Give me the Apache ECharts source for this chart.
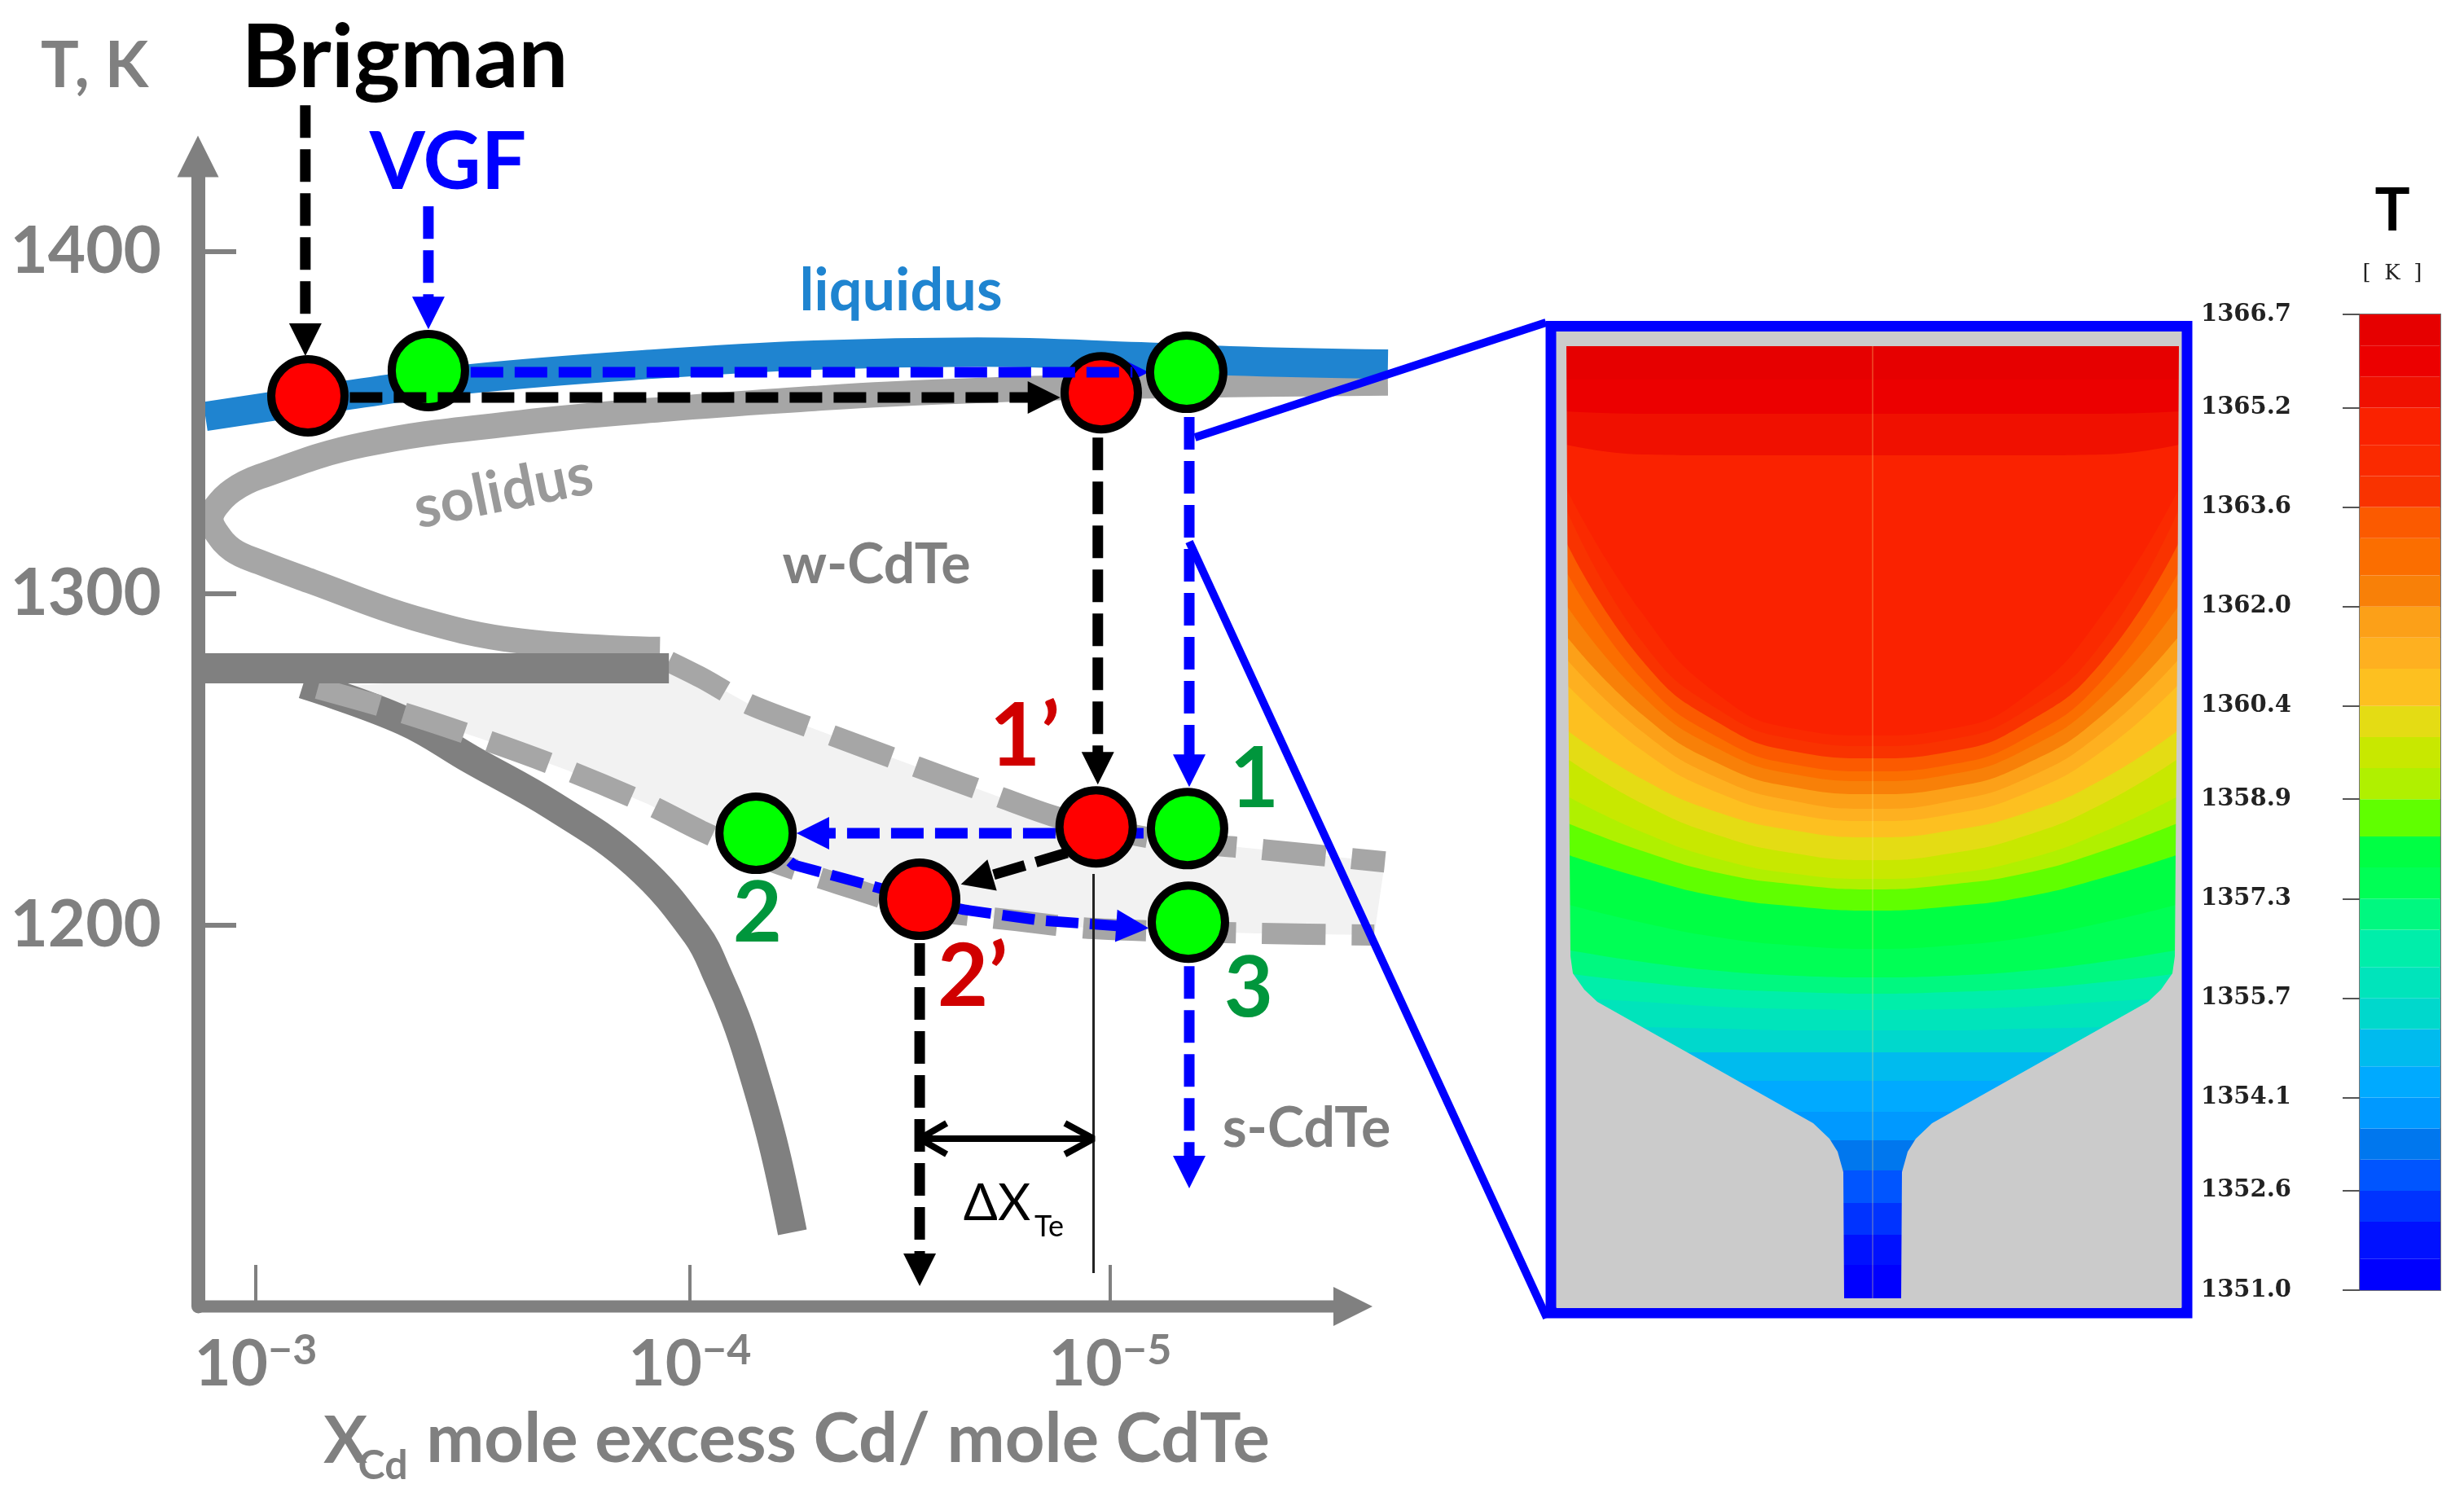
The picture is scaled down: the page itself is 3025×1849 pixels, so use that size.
<!DOCTYPE html>
<html>
<head>
<meta charset="utf-8">
<title>CdTe phase diagram and melt temperature field</title>
<script src="https://cdn.jsdelivr.net/npm/echarts@6/dist/echarts.min.js"></script>
<style>
  html, body { margin: 0; padding: 0; background: #fff; }
  #chart { width: 3025px; height: 1849px; }
</style>
</head>
<body>
<div id="chart"></div>
<script>
// --- phase diagram, x is the exponent magnitude of X_Cd, y is T in K ---
// ticks are where the figure has them, its spacing is a bit uneven
var xTicks = [3, 4.016, 5]
var yTicks = [1200, 1298.4, 1400]

var liquidus = [[2.882,1351.1],[3.215,1357.4],[3.496,1362.2],[3.927,1366.6],[4.308,1369.3],[4.689,1370.2],[5.071,1368.8],[5.280,1367.6],[5.650,1366.6]]
var solidus = [[5.650,1361.0],[5.280,1360.5],[4.880,1359.6],[4.480,1357.7],[4.308,1356.4],[3.965,1353.3],[3.618,1349.2],[3.252,1342.7],[3.009,1333.2],[2.945,1329.1],[2.907,1324.3],[2.895,1320.6],[2.907,1316.8],[2.945,1311.5],[3.009,1307.8],[3.132,1302.0],[3.374,1291.1],[3.618,1284.4],[3.946,1281.9]]
var eutecticBar = [[2.8646,1276.3],[3.967,1276.3]]
var solvus = [[3.111,1271.6],[3.347,1260.7],[3.503,1249.3],[3.698,1235.3],[3.888,1218.3],[4.032,1197.3],[4.083,1184.5],[4.123,1172.4],[4.155,1160.3],[4.209,1136.1],[4.256,1108.8]]
var upperDashed = [[3.967,1278.3],[4.043,1273.5],[4.157,1265.5],[4.350,1256.3],[4.546,1247.1],[4.745,1237.9],[4.886,1231.7],[5.109,1225.6],[5.362,1222.4],[5.643,1218.8]]
var lowerDashed = [[3.145,1270.3],[3.332,1263.6],[3.528,1255.4],[3.726,1246.2],[3.917,1236.0],[4.043,1228.0],[4.194,1219.6],[4.352,1212.8],[4.556,1205.0],[4.779,1201.4],[4.960,1199.0],[5.343,1197.6],[5.618,1197.1]]
var xAxisArrow = [[2.8646,1086.8],[5.5682,1086.8]]

var redPoints = [[3.122,1357.2],[4.979,1358.1],[4.967,1229.2],[4.554,1207.7]]
var greenPoints = [[3.404,1364.7],[5.179,1364.2],[5.181,1228.7],[4.171,1227.3],[5.183,1200.9]]

// growth paths, the last point is the middle of the arrow head
var brigmanDrop = [[3.116,1443.5],[3.116,1400],[3.116,1373.9]]
var vgfDrop = [[3.404,1413.5],[3.404,1381.8]]
var brigmanAcross = [[3.22,1356.7],[4.845,1356.7]]
var vgfAcross = [[3.503,1364.2],[5.052,1364.2]]
var brigmanDown = [[4.971,1344.8],[4.971,1246.6]]
var vgfDown = [[5.185,1350.9],[5.185,1245.9]]
var vgfBack = [[5.181,1227.3],[4.304,1227.3]]
var brigmanBack = [[4.899,1221.5],[4.687,1213.5]]
var vgfAlong = [[4.171,1227.3],[4.260,1217.9],[4.438,1211.8],[4.554,1207.7],[4.657,1204.6],[4.838,1201.4],[5.052,1199.5]]
var brigmanEnd = [[4.554,1207.7],[4.554,1097.7]]
var vgfEnd = [[5.185,1200.9],[5.185,1126.7]]

var deltaLine = [[4.554,1136.6],[4.961,1136.6]]
var deltaLeftHead = [[4.617,1141.2],[4.554,1136.6],[4.617,1132.0]]
var deltaRightHead = [[4.894,1141.2],[4.961,1136.6],[4.894,1132.0]]
var deltaGuide = [[4.961,1215.2],[4.961,1096.7]]

// --- temperature field, x is offset from the axis of the crucible, y is height ---
var fieldOffsets = [0, 94, 188, 282, 376]
// contour heights, coldest first, one row per band edge
var fieldContours = [
  [41,41,41,41,41],
  [78,78,78,78,78],
  [117,117,117,117,117],
  [157,157,157,157,157],
  [194,194,194,194,194],
  [229,229,229,229,229],
  [267,267,267,267,267],
  [302,302,302,302,302],
  [329,329,331,333,336],
  [354,355,358,364,369],
  [374,376,380,388,399],
  [394,396,402,413,428],
  [429,433,443,461,484],
  [476,481,493,516,545],
  [502,508,522,549,584],
  [515,521,539,572,617],
  [538,546,568,607,663],
  [566,574,596,637,698],
  [586,594,620,672,754],
  [601,610,638,695,785],
  [619,627,656,716,813],
  [635,643,674,739,851],
  [647,655,688,759,892],
  [663,671,706,782,928],
  [678,686,722,805,969],
  [691,699,740,840,994],
  [1035,1035,1035,1036,1048],
  [1086,1086,1086,1086,1089],
  [1128,1128,1128,1128,1128]
]
// right half of the crucible wall, top to bottom
var crucibleWall = [[376,1169],[374,800],[371,420],[368,399],[354,379],[338,364],[73,215],[53,196],[43,180],[36,155],[35,0]]

// --- colour bar ---
var barTicks = [1351.0,1352.6,1354.1,1355.7,1357.3,1358.9,1360.4,1362.0,1363.6,1365.2,1366.7]
var barEdges = [1351.0,1351.5,1352.1,1352.6,1353.1,1353.6,1354.1,1354.6,1355.2,1355.7,1356.2,1356.8,1357.3,1357.8,1358.3,1358.9,1359.4,1359.9,1360.4,1361.0,1361.5,1362.0,1362.5,1363.1,1363.6,1364.1,1364.6,1365.2,1365.7,1366.2,1366.7]
var barColors = ['#0000ff','#0011ff','#0033ff','#0055ff','#0077ee','#0099ff','#00aaff','#00bbee','#00d8cc','#00e4bb','#00eeaa','#00f880','#00ff55','#00ff44','#60ff00','#b0f000','#c8e800','#e4dc14','#fdc020','#feb020','#fca018','#f88008','#fb6e00','#fb5a00','#f93300','#fa2a00','#fa2200','#f01000','#ec0000','#e60000']

var GREY = '#808080'
var BLUE = '#0000ff'

function curve(name, data, color, width, z, extra) {
    var s = {
        name: name, type: 'line', xAxisIndex: 0, yAxisIndex: 0, data: data, z: z,
        symbol: 'none', clip: false, silent: true,
        lineStyle: {color: color, width: width, cap: 'butt'}
    }
    return Object.assign(s, extra || {})
}

// dashed path with a solid head on its last segment
function arrowPath(name, data, color, z) {
    var last = data.length - 1
    return curve(name, data, color, 13, z, {
        lineStyle: {color: color, width: 13, type: [40, 14], cap: 'butt'},
        markLine: {
            silent: true, animation: false, symbol: ['none', 'triangle'], symbolSize: 40,
            label: {show: false},
            lineStyle: {color: color, width: 0, type: 'solid'},
            data: [[{coord: data[last - 1]}, {coord: data[last]}]]
        }
    })
}

function polygon(name, points, fill, xi, z) {
    return {
        name: name, type: 'custom', xAxisIndex: xi, yAxisIndex: xi, data: [0], z: z, silent: true,
        renderItem: function (params, api) {
            return {
                type: 'polygon',
                shape: {points: points.map(function (p) { return api.coord(p) })},
                style: {fill: fill}
            }
        }
    }
}

function scatter(name, data, color) {
    return {
        name: name, type: 'scatter', xAxisIndex: 0, yAxisIndex: 0, data: data, z: 5, silent: true,
        symbol: 'circle', symbolSize: 90, clip: false,
        itemStyle: {color: color, borderColor: '#000', borderWidth: 10, opacity: 1}
    }
}

function mirror(offsets, heights) {
    var out = []
    for (var i = offsets.length - 1; i > 0; i--) out.push([-offsets[i], heights[i]])
    for (var j = 0; j < offsets.length; j++) out.push([offsets[j], heights[j]])
    return out
}

function fieldBand(name, data, color, z) {
    return {
        name: name, type: 'line', xAxisIndex: 1, yAxisIndex: 1, data: data, z: z, silent: true,
        symbol: 'none', smooth: 0.5, lineStyle: {width: 0},
        areaStyle: {color: color, opacity: 1, origin: 1169}
    }
}

function wallMask(sign) {
    var pts = crucibleWall.map(function (p) { return [sign * p[0], p[1]] })
    var edge = sign < 0 ? -388 : 379
    pts.push([0, 0], [0, -12], [edge, -12], [edge, 1169])
    return pts
}

var series = [
    polygon('two phase region', upperDashed.concat(lowerDashed.slice().reverse()), '#f2f2f2', 0, 1),
    curve('solvus', solvus, GREY, 36, 2, {smooth: 0.4}),
    curve('solidus', solidus, '#a6a6a6', 31, 2, {smooth: 0.4}),
    curve('liquidus', liquidus, '#1f84d0', 36, 2, {smooth: 0.4}),
    curve('upper boundary', upperDashed, '#a6a6a6', 26, 2, {smooth: 0.3, lineStyle: {color: '#a6a6a6', width: 26, type: [78, 32], cap: 'butt'}}),
    curve('lower boundary', lowerDashed, '#a6a6a6', 26, 2, {smooth: 0.3, lineStyle: {color: '#a6a6a6', width: 26, type: [78, 32], cap: 'butt'}}),
    curve('eutectic', eutecticBar, GREY, 37, 3),
    curve('x axis', xAxisArrow, GREY, 15, 3, {
        markLine: {
            silent: true, animation: false, symbol: ['none', 'triangle'], symbolSize: 48,
            label: {show: false}, lineStyle: {color: GREY, width: 0, type: 'solid'},
            data: [[{coord: xAxisArrow[0]}, {coord: xAxisArrow[1]}]]
        }
    }),

    arrowPath('Brigman drop', brigmanDrop, '#000', 4),
    arrowPath('VGF drop', vgfDrop, BLUE, 4),
    arrowPath('Brigman down', brigmanDown, '#000', 4),
    arrowPath('VGF down', vgfDown, BLUE, 4),
    arrowPath('VGF back', vgfBack, BLUE, 4),
    arrowPath('Brigman back', brigmanBack, '#000', 4),
    arrowPath('VGF along', vgfAlong, BLUE, 4),
    arrowPath('Brigman end', brigmanEnd, '#000', 4),
    arrowPath('VGF end', vgfEnd, BLUE, 4),

    scatter('Brigman states', redPoints, '#ff0000'),
    scatter('VGF states', greenPoints, '#00ff00'),

    arrowPath('Brigman across', brigmanAcross, '#000', 6),
    arrowPath('VGF across', vgfAcross, BLUE, 6),

    curve('delta X guide', deltaGuide, '#222', 3, 4),
    curve('delta X', deltaLine, '#000', 8, 4),
    curve('delta X left', deltaLeftHead, '#000', 8, 4),
    curve('delta X right', deltaRightHead, '#000', 8, 4)
]

// field is painted coldest to hottest, each band fills up to the top of the melt
series.push(fieldBand('band 0', mirror(fieldOffsets, [0, 0, 0, 0, 0]), barColors[0], 1))
fieldContours.forEach(function (row, i) {
    series.push(fieldBand('band ' + (i + 1), mirror(fieldOffsets, row), barColors[i + 1], 1))
})
series.push({
    name: 'axis line', type: 'line', xAxisIndex: 1, yAxisIndex: 1, z: 2, symbol: 'none', silent: true,
    data: [[0, 0], [0, 1169]], lineStyle: {color: 'rgba(255,230,120,0.25)', width: 2}
})
series.push(polygon('wall left', wallMask(-1), '#cbcbcb', 1, 3))
series.push(polygon('wall right', wallMask(1), '#cbcbcb', 1, 3))

var barData = barColors.map(function (c, i) { return [0, barEdges[i], barEdges[i + 1], i] })
series.push({
    name: 'colour bar', type: 'custom', xAxisIndex: 2, yAxisIndex: 2, data: barData, z: 2, silent: true,
    encode: {x: 0, y: [1, 2]},
    renderItem: function (params, api) {
        var a = api.coord([0, api.value(1)])
        var b = api.coord([1, api.value(2)])
        return {
            type: 'rect',
            shape: {x: a[0], y: b[1], width: b[0] - a[0], height: a[1] - b[1]},
            style: {fill: barColors[api.value(3)]}
        }
    }
})

function text(str, x, y, font, fill, rotation) {
    return {
        type: 'text', x: x, y: y, rotation: rotation || 0, silent: true, z: 20,
        style: {text: str, font: font, fill: fill, textAlign: 'center', textVerticalAlign: 'middle'}
    }
}

var labels = [
    text('T, K', 116, 82, 'bold 78px Lato', GREY),
    text('Brigman', 497, 72, 'bold 108px Lato', '#000'),
    text('VGF', 550, 200, 'bold 98px Lato', BLUE),
    text('liquidus', 1106, 358, 'bold 72px Lato', '#1f84d0'),
    text('solidus', 618, 604, 'bold 72px Lato', '#999999', 0.2),
    text('w-CdTe', 1076, 694, 'bold 68px Lato', GREY),
    text('s-CdTe', 1604, 1386, 'bold 68px Lato', GREY),
    text('1’', 1258, 905, 'bold 108px Lato', '#d00000'),
    text('2’', 1194, 1200, 'bold 108px Lato', '#d00000'),
    text('1', 1540, 957, 'bold 104px Lato', '#00963c'),
    text('2', 930, 1122, 'bold 104px Lato', '#00963c'),
    text('3', 1533, 1214, 'bold 104px Lato', '#00963c'),
    text('ΔX', 1224, 1478, '62px Lato', '#000'),
    text('Te', 1288, 1506, '36px Lato', '#000'),
    text('X', 424, 1770, 'bold 80px Lato', GREY),
    text('Cd', 470, 1800, 'bold 50px Lato', GREY),
    text('mole excess Cd/ mole CdTe', 1041, 1768, 'bold 85px Lato', GREY),
    text('T', 2937, 260, 'bold 72px Lato', '#000'),
    text('[  K  ]', 2937, 336, '26px "DejaVu Serif"', '#222'),
    {type: 'line', silent: true, z: 19, shape: {x1: 1467, y1: 537, x2: 1898, y2: 396}, style: {stroke: BLUE, lineWidth: 10}},
    {type: 'line', silent: true, z: 19, shape: {x1: 1460, y1: 665, x2: 1899, y2: 1618}, style: {stroke: BLUE, lineWidth: 10}}
]

var instance = echarts.init(document.getElementById('chart'), null, {renderer: 'canvas'})

var option = {
    animation: false,
    backgroundColor: '#fff',
    grid: [
        {left: 243, top: 192, width: 1477, height: 1412},
        {left: 1904, top: 400.5, width: 781, height: 1211.5, show: true, backgroundColor: '#cbcbcb', borderColor: BLUE, borderWidth: 13},
        {left: 2897, top: 386, width: 99, height: 1198, show: true, borderColor: '#777', borderWidth: 2}
    ],
    xAxis: [
        {
            type: 'value', gridIndex: 0, min: 2.8646, max: 5.6807, z: 3, splitLine: {show: false},
            axisLine: {show: false, onZero: false},
            axisTick: {show: true, inside: true, length: 51, customValues: xTicks, lineStyle: {color: GREY, width: 4}},
            axisLabel: {
                show: true, customValues: xTicks, margin: 28,
                formatter: function (v) { return '{base|10}{sup|−' + Math.round(v) + '}' },
                rich: {
                    base: {fontFamily: 'Lato', fontWeight: 'bold', fontSize: 78, color: GREY},
                    sup: {fontFamily: 'Lato', fontWeight: 'bold', fontSize: 52, color: GREY, padding: [0, 0, 36, 0]}
                }
            }
        },
        {type: 'value', gridIndex: 1, min: -395, max: 386, show: false, splitLine: {show: false}},
        {type: 'value', gridIndex: 2, min: 0, max: 1, show: false, splitLine: {show: false}}
    ],
    yAxis: [
        {
            type: 'value', gridIndex: 0, min: 1086.8, max: 1428.3, z: 3, splitLine: {show: false},
            axisLine: {show: true, onZero: false, lineStyle: {color: GREY, width: 17}, symbol: ['none', 'triangle'], symbolSize: [51, 51]},
            axisTick: {show: true, inside: true, length: 47, customValues: yTicks, lineStyle: {color: GREY, width: 6}},
            axisLabel: {
                show: true, customValues: yTicks, margin: 45,
                fontFamily: 'Lato', fontWeight: 'bold', fontSize: 80, color: GREY,
                formatter: function (v) { return String(Math.round(v / 100) * 100) }
            }
        },
        {type: 'value', gridIndex: 1, min: -18, max: 1193.5, show: false, splitLine: {show: false}},
        {
            type: 'value', gridIndex: 2, min: 1351, max: 1366.7, splitLine: {show: false},
            axisLine: {show: false},
            axisTick: {show: true, length: 21, customValues: barTicks, lineStyle: {color: '#555', width: 2}},
            axisLabel: {
                show: true, customValues: barTicks, margin: 84,
                fontFamily: 'DejaVu Serif', fontWeight: 'bold', fontSize: 29, color: '#222',
                formatter: function (v) { return v.toFixed(1) }
            }
        }
    ],
    graphic: labels,
    series: series
}
instance.setOption(option)
</script>
</body>
</html>
